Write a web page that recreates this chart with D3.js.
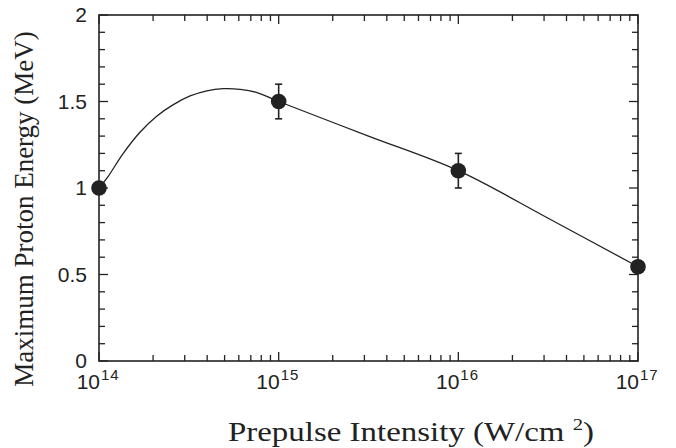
<!DOCTYPE html>
<html>
<head>
<meta charset="utf-8">
<script src="https://cdn.jsdelivr.net/npm/d3@7"></script>
<style>
  body { margin: 0; background: #fff; }
  svg { display: block; }
</style>
</head>
<body>
<script>
// measured points (prepulse intensity W/cm^2, max proton energy MeV)
const intensity = [1e14, 1e15, 1e16, 1e17];
const energy = [1.0, 1.5, 1.1, 0.545];
const energyErr = [0, 0.1, 0.1, 0];

// guide curve (log10 intensity, energy)
const curveLogI = [14, 14.043, 14.135, 14.228, 14.321, 14.414, 14.507, 14.6, 14.692, 14.786, 14.879, 15, 15.5, 16, 16.5, 17];
const curveE = [1.0, 1.055, 1.2, 1.322, 1.415, 1.482, 1.532, 1.562, 1.574, 1.57, 1.552, 1.5, 1.3, 1.1, 0.825, 0.545];

const xDecades = [14, 15, 16, 17];
const yTicks = [0, 0.5, 1, 1.5, 2];

const W = 676, H = 448;
const svg = d3.select("body").append("svg")
    .attr("width", W)
    .attr("height", H);

const x = d3.scaleLog().domain([1e14, 1e17]).range([99, 638]);
const y = d3.scaleLinear().domain([0, 2]).range([361, 15]);

const ink = "#222";

// frame
svg.append("rect")
    .attr("x", x.range()[0]).attr("y", y.range()[1])
    .attr("width", x.range()[1] - x.range()[0])
    .attr("height", y.range()[0] - y.range()[1])
    .attr("fill", "none")
    .attr("stroke", ink)
    .attr("stroke-width", 1.6);

// x ticks (inside, bottom + top)
const xMinor = [];
for (let d = 14; d < 17; d++) for (let k = 2; k <= 9; k++) xMinor.push(k * Math.pow(10, d));
const xMajor = xDecades.map(d => Math.pow(10, d));

function xTickLines(vals, len) {
    [[y(0), -1], [y(2), 1]].forEach(([y0, dir]) => {
        svg.append("g").selectAll("line").data(vals).join("line")
            .attr("x1", d => x(d)).attr("x2", d => x(d))
            .attr("y1", y0).attr("y2", y0 + dir * len)
            .attr("stroke", ink).attr("stroke-width", 1.3);
    });
}
xTickLines(xMinor, 6);
xTickLines(xMajor, 9);

// y ticks (inside, left + right)
const yMinor = d3.range(0, 2.001, 0.1).filter(v => Math.abs(v * 2 - Math.round(v * 2)) > 1e-6);
function yTickLines(vals, len) {
    [[x.range()[0], 1], [x.range()[1], -1]].forEach(([x0, dir]) => {
        svg.append("g").selectAll("line").data(vals).join("line")
            .attr("y1", d => y(d)).attr("y2", d => y(d))
            .attr("x1", x0).attr("x2", x0 + dir * len)
            .attr("stroke", ink).attr("stroke-width", 1.3);
    });
}
yTickLines(yMinor, 6);
yTickLines(yTicks, 9);

// tick labels
const sans = "'Liberation Sans', Arial, Helvetica, sans-serif";
svg.append("g").selectAll("text").data(yTicks).join("text")
    .attr("x", 87).attr("y", d => y(d) + 7)
    .attr("text-anchor", "end")
    .attr("font-family", sans).attr("font-size", 21)
    .attr("fill", ink)
    .text(d => d3.format("~g")(d));

const xl = svg.append("g").selectAll("g").data(xDecades).join("g")
    .attr("transform", d => `translate(${x(Math.pow(10, d)) + 1},389)`);
xl.append("text")
    .attr("text-anchor", "end")
    .attr("font-family", sans).attr("font-size", 21)
    .attr("fill", ink)
    .text("10");
xl.append("text")
    .attr("x", 1)
    .attr("y", -9)
    .attr("font-family", sans).attr("font-size", 15)
    .attr("letter-spacing", 1)
    .attr("fill", ink)
    .text(d => d);

// curve
const line = d3.line()
    .x((d, i) => x(Math.pow(10, curveLogI[i])))
    .y(d => y(d))
    .curve(d3.curveCatmullRom.alpha(0.5));
svg.append("path")
    .attr("d", line(curveE))
    .attr("fill", "none")
    .attr("stroke", ink)
    .attr("stroke-width", 1.3);

// error bars
const pts = intensity.map((v, i) => ({ x: v, y: energy[i], e: energyErr[i] }));
const eb = svg.append("g").selectAll("g").data(pts.filter(p => p.e > 0)).join("g");
eb.append("line")
    .attr("x1", d => x(d.x)).attr("x2", d => x(d.x))
    .attr("y1", d => y(d.y - d.e)).attr("y2", d => y(d.y + d.e))
    .attr("stroke", ink).attr("stroke-width", 1.6);
[-1, 1].forEach(s => {
    eb.append("line")
        .attr("x1", d => x(d.x) - 3.5).attr("x2", d => x(d.x) + 3.5)
        .attr("y1", d => y(d.y + s * d.e)).attr("y2", d => y(d.y + s * d.e))
        .attr("stroke", ink).attr("stroke-width", 1.6);
});

// markers
svg.append("g").selectAll("circle").data(pts).join("circle")
    .attr("cx", d => x(d.x)).attr("cy", d => y(d.y))
    .attr("r", 7.8)
    .attr("fill", ink);

// axis titles
const serif = "'Liberation Serif', 'Times New Roman', Times, serif";
const xt = svg.append("text")
    .attr("transform", "translate(411,441) scale(1.22,1)")
    .attr("text-anchor", "middle")
    .attr("font-family", serif).attr("font-size", 27)
    .attr("fill", ink);
xt.append("tspan").text("Prepulse Intensity (W/cm ");
xt.append("tspan").attr("dy", -11).attr("font-size", 17).text("2");
xt.append("tspan").attr("dy", 11).text(")");

svg.append("text")
    .attr("transform", "translate(33,209) rotate(-90)")
    .attr("text-anchor", "middle")
    .attr("font-family", serif).attr("font-size", 27)
    .attr("fill", ink)
    .text("Maximum Proton Energy (MeV)");
</script>
</body>
</html>
